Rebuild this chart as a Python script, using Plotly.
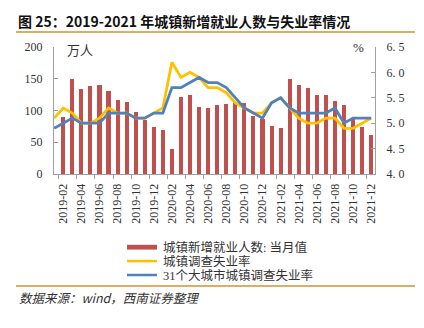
import plotly.graph_objects as go

# ---------------- data ----------------
line_months = [f"{y}-{m:02d}" for y in (2019, 2020, 2021) for m in range(1, 13)]  # 2019-01 .. 2021-12
bar_months = line_months[1:]                                                        # 2019-02 .. 2021-12

new_jobs = [89, 149, 134, 138, 140, 130, 117, 114, 97, 85, 74,
            69, 40, 121, 125, 106, 104, 108, 110, 114, 112, 91, 87,
            75, 72, 149, 140, 136, 125, 125, 115, 108, 87, 74, 62]

urban_unemp = [5.1, 5.3, 5.2, 5.0, 5.0, 5.1, 5.3, 5.2, 5.2, 5.1, 5.1, 5.2,
               5.3, 6.2, 5.9, 6.0, 5.9, 5.7, 5.7, 5.6, 5.4, 5.3, 5.2, 5.2,
               5.4, 5.5, 5.3, 5.1, 5.0, 5.0, 5.1, 5.1, 4.9, 4.9, 5.0, 5.1]

city31_unemp = [4.9, 5.0, 5.1, 5.0, 5.0, 5.0, 5.2, 5.2, 5.2, 5.1, 5.1, 5.2,
                5.2, 5.7, 5.7, 5.8, 5.9, 5.8, 5.8, 5.7, 5.5, 5.3, 5.2, 5.1,
                5.4, 5.5, 5.3, 5.2, 5.2, 5.2, 5.2, 5.3, 5.0, 5.1, 5.1, 5.1]

tick_labels = bar_months[::2]
left_ticks = [0, 50, 100, 150, 200]
right_ticks = [4.0, 4.5, 5.0, 5.5, 6.0, 6.5]
right_tick_text = [f"{v:.1f}".replace(".", ". ") for v in right_ticks]

series_names = ["城镇新增就业人数: 当月值", "城镇调查失业率", "31个大城市城镇调查失业率"]
RED, YELLOW, BLUE = "#C0504D", "#FFC000", "#4F81BD"
ORANGE = "#D4922A"
AXIS = "#A0A0A0"
TXT = "#333333"

line_x = list(range(len(line_months)))
bar_x = [line_months.index(m) for m in bar_months]

# ---------------- figure ----------------
W, H = 424, 328
L, R, T, B = 54, 49, 47, 154
pw, ph = W - L - R, H - T - B


def px(x):
    return (x - L) / pw


def py(y):
    return (H - B - y) / ph


fig = go.Figure()
fig.add_trace(go.Bar(x=bar_x, y=new_jobs, name=series_names[0], width=0.45,
                     marker=dict(color=RED, line=dict(width=0)), showlegend=False))
fig.add_trace(go.Scatter(x=line_x, y=urban_unemp, name=series_names[1], mode="lines",
                         line=dict(color=YELLOW, width=2.8), yaxis="y2", showlegend=False))
fig.add_trace(go.Scatter(x=line_x, y=city31_unemp, name=series_names[2], mode="lines",
                         line=dict(color=BLUE, width=2.8), yaxis="y2", showlegend=False))

tick_font = dict(family="Liberation Serif", size=12, color=TXT)

fig.update_layout(
    width=W, height=H, autosize=False,
    margin=dict(l=L, r=R, t=T, b=B, pad=0),
    paper_bgcolor="white", plot_bgcolor="white",
    showlegend=False,
    bargap=0,
    xaxis=dict(
        range=[-0.02, len(line_months) - 0.58],
        tickmode="array", tickvals=[line_months.index(m) for m in tick_labels], ticktext=tick_labels,
        tickangle=-90, ticks="", ticklabelstandoff=4,
        minor=dict(ticks="outside", ticklen=4, tickcolor=AXIS, tickwidth=1,
                   tickmode="array",
                   tickvals=[line_months.index(m) - 0.5 for m in tick_labels]),
        showline=True, linecolor=AXIS, linewidth=1, showgrid=False, zeroline=False,
        tickfont=tick_font, fixedrange=True,
    ),
    yaxis=dict(
        range=[0, 200], tickmode="array", tickvals=left_ticks,
        ticks="inside", ticklen=4, tickcolor=AXIS, ticklabelstandoff=8,
        showline=True, linecolor=AXIS, linewidth=1, showgrid=False, zeroline=False,
        tickfont=tick_font,
    ),
    yaxis2=dict(
        range=[4.0, 6.5], overlaying="y", side="right", anchor="x",
        tickmode="array", tickvals=right_ticks, ticktext=right_tick_text,
        ticks="inside", ticklen=4, tickcolor=AXIS, ticklabelstandoff=8,
        showline=True, linecolor=AXIS, linewidth=1, showgrid=False, zeroline=False,
        tickfont=tick_font,
    ),
)

cjk = "Noto Sans CJK SC"
ann = []
# title
ann.append(dict(text="<b>图 25：2019-2021 年城镇新增就业人数与失业率情况</b>",
                x=px(16), y=py(21), xanchor="left", yanchor="middle",
                font=dict(family=cjk, size=14, color="#111111")))
# unit labels
ann.append(dict(text="万人", x=px(80), y=py(50), xanchor="center", yanchor="middle",
                font=dict(family=cjk, size=13, color=TXT)))
ann.append(dict(text="%", x=px(358), y=py(47), xanchor="center", yanchor="middle",
                font=dict(family="Liberation Serif", size=13, color=TXT)))
# legend texts
leg_rows = [247.2, 261.1, 275.0]
for name, yy in zip(series_names, leg_rows):
    ann.append(dict(text=name, x=px(160.5), y=py(yy), xanchor="left", yanchor="middle",
                    font=dict(family="Liberation Serif, Noto Sans CJK SC", size=12.5, color=TXT)))
# source
ann.append(dict(text="数据来源：wind，西南证券整理", x=px(17), y=py(297),
                xanchor="left", yanchor="middle",
                font=dict(family=cjk, size=12.5, color=TXT, style="italic")))
for a in ann:
    a.update(xref="paper", yref="paper", showarrow=False)
fig.update_layout(annotations=ann)

shapes = []
# separator lines
for yy in (32, 286):
    shapes.append(dict(type="line", xref="paper", yref="paper",
                       x0=px(16), x1=px(415), y0=py(yy), y1=py(yy),
                       line=dict(color=ORANGE, width=1.5)))
# legend swatches
swatch = [(RED, 4.8), (YELLOW, 2.5), (BLUE, 2.5)]
for (col, wdt), yy in zip(swatch, leg_rows):
    shapes.append(dict(type="line", xref="paper", yref="paper",
                       x0=px(127), x1=px(157), y0=py(yy), y1=py(yy),
                       line=dict(color=col, width=wdt)))
fig.update_layout(shapes=shapes)

fig.write_html("out.html")
